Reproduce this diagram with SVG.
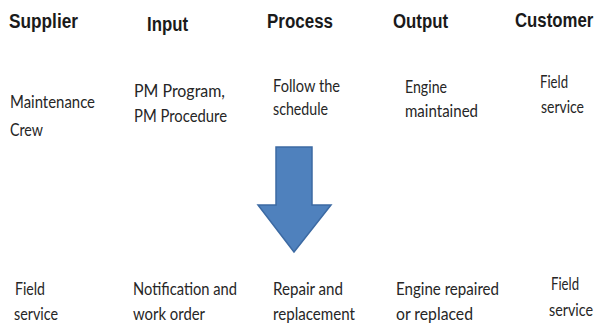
<svg xmlns="http://www.w3.org/2000/svg" width="605" height="323" viewBox="0 0 605 323">
<style>
.h{font-family:"Liberation Sans Narrow","Liberation Sans",Arial,sans-serif;font-weight:bold;font-size:20px;fill:#1a1a1a}
.t{font-family:Lato,"Open Sans",sans-serif;font-size:16.5px;fill:#262626}
</style>
<rect width="605" height="323" fill="#ffffff"/>
<g id="headers">
<text class="h" x="9" y="28" textLength="69" lengthAdjust="spacingAndGlyphs">Supplier</text>
<text class="h" x="147" y="31" textLength="41" lengthAdjust="spacingAndGlyphs">Input</text>
<text class="h" x="267" y="28" textLength="66" lengthAdjust="spacingAndGlyphs">Process</text>
<text class="h" x="393" y="28" textLength="55" lengthAdjust="spacingAndGlyphs">Output</text>
<text class="h" transform="translate(515,27) scale(0.84,1)" x="0" y="0">Customer</text>
</g>
<g id="supplier1"><text class="t" x="10" y="108" textLength="85" lengthAdjust="spacingAndGlyphs">Maintenance</text><text class="t" x="10" y="136" textLength="33" lengthAdjust="spacingAndGlyphs">Crew</text></g>
<g id="input1"><text class="t" x="134" y="97" textLength="91" lengthAdjust="spacingAndGlyphs">PM Program,</text><text class="t" x="134" y="122" textLength="93" lengthAdjust="spacingAndGlyphs">PM Procedure</text></g>
<g id="process1"><text class="t" x="273" y="92" textLength="67" lengthAdjust="spacingAndGlyphs">Follow the</text><text class="t" x="273" y="115" textLength="55" lengthAdjust="spacingAndGlyphs">schedule</text></g>
<g id="output1"><text class="t" x="405" y="93" textLength="42" lengthAdjust="spacingAndGlyphs">Engine</text><text class="t" x="405" y="117" textLength="73" lengthAdjust="spacingAndGlyphs">maintained</text></g>
<g id="customer1"><text class="t" x="540" y="88" textLength="28" lengthAdjust="spacingAndGlyphs">Field</text><text class="t" x="541" y="113" textLength="43" lengthAdjust="spacingAndGlyphs">service</text></g>
<g id="supplier2"><text class="t" x="15" y="295" textLength="30" lengthAdjust="spacingAndGlyphs">Field</text><text class="t" x="14" y="320" textLength="44" lengthAdjust="spacingAndGlyphs">service</text></g>
<g id="input2"><text class="t" x="133" y="295" textLength="104" lengthAdjust="spacingAndGlyphs">Notification and</text><text class="t" x="133" y="320" textLength="72" lengthAdjust="spacingAndGlyphs">work order</text></g>
<g id="process2"><text class="t" x="273" y="295" textLength="70" lengthAdjust="spacingAndGlyphs">Repair and</text><text class="t" x="273" y="320" textLength="82" lengthAdjust="spacingAndGlyphs">replacement</text></g>
<g id="output2"><text class="t" x="396" y="295" textLength="103" lengthAdjust="spacingAndGlyphs">Engine repaired</text><text class="t" x="396" y="320" textLength="77" lengthAdjust="spacingAndGlyphs">or replaced</text></g>
<g id="customer2"><text class="t" x="551" y="290" textLength="28" lengthAdjust="spacingAndGlyphs">Field</text><text class="t" x="549" y="316" textLength="44" lengthAdjust="spacingAndGlyphs">service</text></g>
<g id="connectors">
<path d="M276,147 H312 V205 H331 L294,252 L258,205 H276 Z" fill="#4f81bd" stroke="#3c6aa3" stroke-width="1.5" stroke-linejoin="miter"/>
</g>
</svg>
